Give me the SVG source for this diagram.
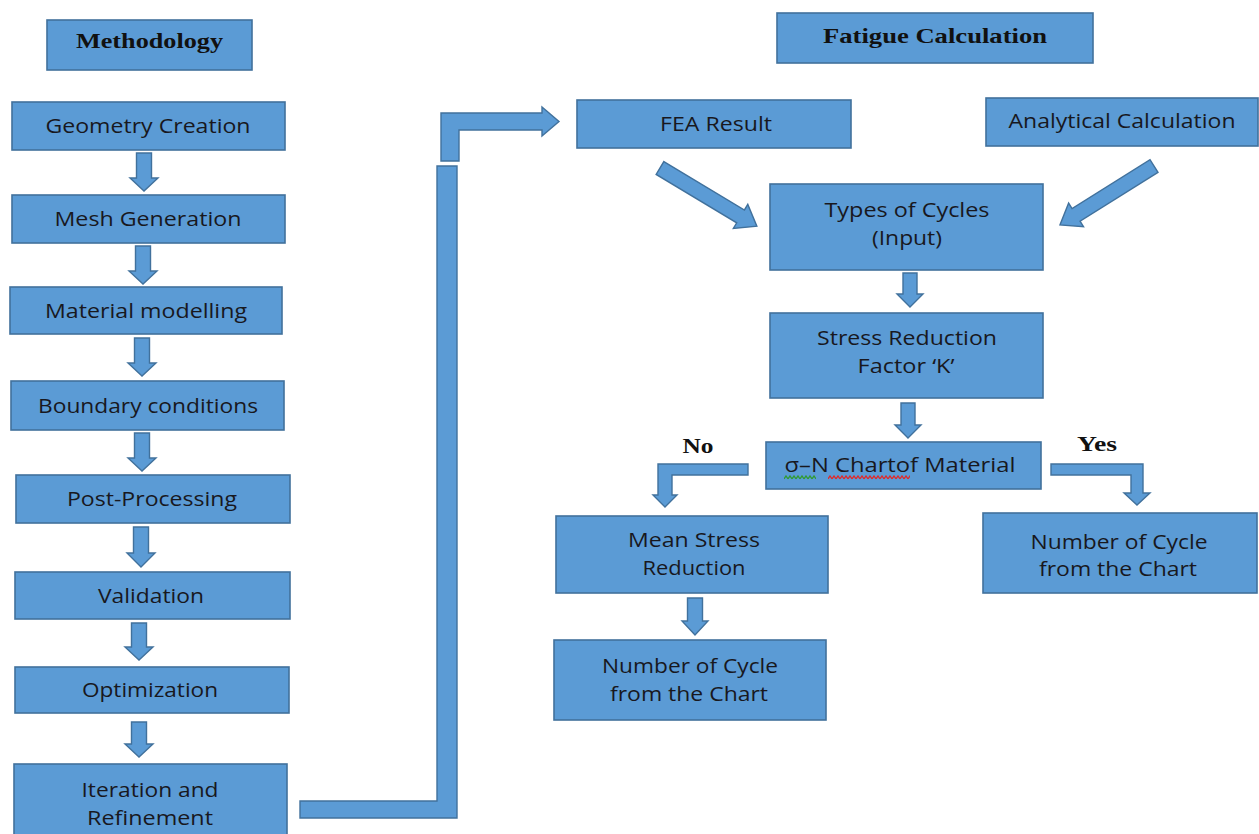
<svg xmlns="http://www.w3.org/2000/svg" width="1259" height="834" viewBox="0 0 1259 834">
<style>
.box{fill:#5b9bd5;stroke:#41719c;stroke-width:1.6}
.arr{fill:#5b9bd5;stroke:#41719c;stroke-width:1.4;stroke-linejoin:miter}
.t{font-family:"Open Sans","Liberation Sans",sans-serif;font-size:20px;fill:#18181e;text-anchor:middle}
.h{font-family:"Liberation Serif","Times New Roman",serif;font-size:21px;font-weight:bold;fill:#111;text-anchor:middle}
</style>
<defs>
<pattern id="wavG" width="4" height="5" patternUnits="userSpaceOnUse"><path d="M0,4 L2,1 L4,4" stroke="#2f9a2f" stroke-width="1.3" fill="none"/></pattern>
<pattern id="wavR" width="4" height="5" patternUnits="userSpaceOnUse"><path d="M0,4 L2,1 L4,4" stroke="#e02828" stroke-width="1.3" fill="none"/></pattern>
</defs>
<rect width="1259" height="834" fill="#ffffff"/>

<g id="connectors">
<polygon class="arr" points="136.5,153 151.5,153 151.5,178 158,178 144,191 130,178 136.5,178"/>
<polygon class="arr" points="135.5,246 150.5,246 150.5,271 157,271 143,284 129,271 135.5,271"/>
<polygon class="arr" points="134.5,338 149.5,338 149.5,363 156,363 142,376 128,363 134.5,363"/>
<polygon class="arr" points="134.5,433 149.5,433 149.5,458 156,458 142,471 128,458 134.5,458"/>
<polygon class="arr" points="133.5,527 148.5,527 148.5,553 155,553 141,567 127,553 133.5,553"/>
<polygon class="arr" points="131.5,623 146.5,623 146.5,647 153,647 139,660 125,647 131.5,647"/>
<polygon class="arr" points="131.5,722 146.5,722 146.5,744 153,744 139,757 125,744 131.5,744"/>
<polygon class="arr" points="300,801 437,801 437,166 457,166 457,818 300,818"/>
<polygon class="arr" points="441,161 441,113 542,113 542,107 559,121.5 542,136 542,130 459,130 459,161"/>
<path class="arr" transform="translate(660,168) rotate(31)" d="M0,-7.5 H94 V-14 L113,0 L94,14 V7.5 H0 Z"/>
<path class="arr" transform="translate(1154,166) rotate(147.9)" d="M0,-7.5 H92 V-14 L111,0 L92,14 V7.5 H0 Z"/>
<polygon class="arr" points="903,273 917,273 917,294 923,294 910,307 897,294 903,294"/>
<polygon class="arr" points="901,403 915,403 915,425 921,425 908,438 895,425 901,425"/>
<polygon class="arr" points="748,464 748,475 672,475 672,495 677,495 665,507 653,495 658,495 658,464"/>
<polygon class="arr" points="1051,464 1143,464 1143,493 1150,493 1137,505 1124,493 1131,493 1131,475 1051,475"/>
<polygon class="arr" points="687.5,598 702.5,598 702.5,621 708,621 695,635 682,621 687.5,621"/>
</g>

<g id="n-methodology"><rect class="box" x="47" y="20" width="205" height="50"/><text class="h" x="149.5" y="48" textLength="147" lengthAdjust="spacingAndGlyphs">Methodology</text></g>
<g id="n-geometry"><rect class="box" x="12" y="102" width="273" height="48"/><text class="t" x="148" y="133" textLength="205" lengthAdjust="spacingAndGlyphs">Geometry Creation</text></g>
<g id="n-mesh"><rect class="box" x="12" y="195" width="273" height="48"/><text class="t" x="148" y="226" textLength="187" lengthAdjust="spacingAndGlyphs">Mesh Generation</text></g>
<g id="n-material"><rect class="box" x="10" y="287" width="272" height="47"/><text class="t" x="146" y="318" textLength="202" lengthAdjust="spacingAndGlyphs">Material modelling</text></g>
<g id="n-boundary"><rect class="box" x="11" y="381" width="273" height="49"/><text class="t" x="148" y="413" textLength="220" lengthAdjust="spacingAndGlyphs">Boundary conditions</text></g>
<g id="n-post"><rect class="box" x="16" y="475" width="274" height="48"/><text class="t" x="152" y="506" textLength="170" lengthAdjust="spacingAndGlyphs">Post-Processing</text></g>
<g id="n-validation"><rect class="box" x="15" y="572" width="275" height="47"/><text class="t" x="151" y="603" textLength="106" lengthAdjust="spacingAndGlyphs">Validation</text></g>
<g id="n-optimization"><rect class="box" x="15" y="667" width="274" height="46"/><text class="t" x="150" y="697" textLength="136" lengthAdjust="spacingAndGlyphs">Optimization</text></g>
<g id="n-iteration"><rect class="box" x="14" y="764" width="273" height="80"/><text class="t" x="150" y="797" textLength="137" lengthAdjust="spacingAndGlyphs">Iteration and</text><text class="t" x="150" y="825" textLength="126" lengthAdjust="spacingAndGlyphs">Refinement</text></g>

<g id="n-fatigue"><rect class="box" x="777" y="13" width="316" height="50"/><text class="h" x="935" y="43" textLength="224" lengthAdjust="spacingAndGlyphs">Fatigue Calculation</text></g>
<g id="n-fea"><rect class="box" x="577" y="100" width="274" height="48"/><text class="t" x="716" y="131" textLength="112" lengthAdjust="spacingAndGlyphs">FEA Result</text></g>
<g id="n-analytical"><rect class="box" x="986" y="98" width="272" height="48"/><text class="t" x="1122" y="128" textLength="227" lengthAdjust="spacingAndGlyphs">Analytical Calculation</text></g>
<g id="n-types"><rect class="box" x="770" y="184" width="273" height="86"/><text class="t" x="907" y="217" textLength="165" lengthAdjust="spacingAndGlyphs">Types of Cycles</text><text class="t" x="907" y="245" textLength="70" lengthAdjust="spacingAndGlyphs">(Input)</text></g>
<g id="n-stress"><rect class="box" x="770" y="313" width="273" height="85"/><text class="t" x="907" y="345" textLength="180" lengthAdjust="spacingAndGlyphs">Stress Reduction</text><text class="t" x="906" y="373" textLength="97" lengthAdjust="spacingAndGlyphs">Factor ‘K’</text></g>
<g id="n-sigma"><rect class="box" x="766" y="442" width="275" height="47"/><text class="t" x="900" y="472" textLength="231" lengthAdjust="spacingAndGlyphs">σ–N Chartof Material</text><rect x="784" y="475" width="32" height="5" fill="url(#wavG)"/><rect x="828" y="475" width="82" height="5" fill="url(#wavR)"/></g>
<g id="n-mean"><rect class="box" x="556" y="516" width="272" height="77"/><text class="t" x="694" y="547" textLength="132" lengthAdjust="spacingAndGlyphs">Mean Stress</text><text class="t" x="694" y="575" textLength="103" lengthAdjust="spacingAndGlyphs">Reduction</text></g>
<g id="n-number-left"><rect class="box" x="554" y="640" width="272" height="80"/><text class="t" x="690" y="673" textLength="176" lengthAdjust="spacingAndGlyphs">Number of Cycle</text><text class="t" x="689" y="701" textLength="158" lengthAdjust="spacingAndGlyphs">from the Chart</text></g>
<g id="n-number-right"><rect class="box" x="983" y="513" width="274" height="80"/><text class="t" x="1119" y="549" textLength="177" lengthAdjust="spacingAndGlyphs">Number of Cycle</text><text class="t" x="1118" y="576" textLength="158" lengthAdjust="spacingAndGlyphs">from the Chart</text></g>
<g id="labels">
<text class="h" x="698" y="453" textLength="31" lengthAdjust="spacingAndGlyphs">No</text>
<text class="h" x="1097" y="451" textLength="40" lengthAdjust="spacingAndGlyphs">Yes</text>
</g>
</svg>
